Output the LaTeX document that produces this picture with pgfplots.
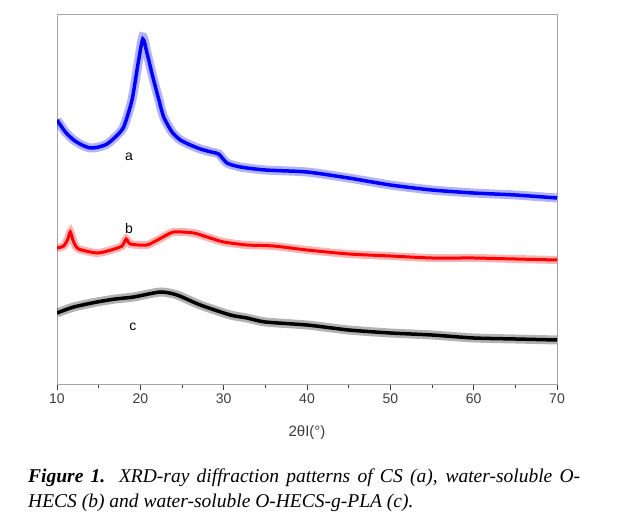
\documentclass[border=0pt]{standalone}
\usepackage{pgfplots}
\pgfplotsset{compat=1.18}
\usepackage{fontspec}
\setmainfont{Liberation Serif}
\newfontfamily\arial{Liberation Sans}
\definecolor{frame}{RGB}{165,165,165}
\definecolor{tickc}{RGB}{60,60,60}
\begin{document}
\begin{tikzpicture}
\useasboundingbox (0,0) rectangle (630bp,523bp);
\begin{axis}[
  at={(57bp,138bp)}, anchor=south west,
  scale only axis, width=500bp, height=370bp,
  xmin=10, xmax=70, ymin=0, ymax=370,
  xtick={10,20,...,70}, minor x tick num=1,
  ytick=\empty, xtick pos=bottom, tick align=outside,
  major tick length=5bp, minor tick length=3bp,
  axis line style={frame, line width=1bp},
  every tick/.style={tickc, line width=0.8bp},
  tick label style={font=\arial\fontsize{14bp}{16bp}\selectfont, text=tickc},
  /pgf/number format/assume math mode=true,
  xlabel={\arial\fontsize{15bp}{17bp}\selectfont 2θI(°)},
  xlabel style={text=tickc, yshift=-15bp},
  clip=true,
]
% series a (blue)
\addplot[blue, line width=9bp, opacity=0.3, smooth, tension=0.4] coordinates {
(10,265)(11,253)(12,245)(13,240)(14,237)(15,238)(16,241)(17,248)(18,258)(19,285)(19.7,320)(20.3,348)(20.8,332)(21.5,308)(22.2,286)(22.8,268)(23.8,253)(24.8,245)(26,240)(27.2,236)(28.5,233)(29.4,231)(30.4,222)(32,218)(35,215)(40,213)(45,207)(50,200)(55,195)(60,192)(65,190)(70,187)};
\addplot[blue, line width=3.5bp, smooth, tension=0.4] coordinates {
(10,265)(11,253)(12,245)(13,240)(14,237)(15,238)(16,241)(17,248)(18,258)(19,285)(19.7,320)(20.3,346)(20.8,332)(21.5,308)(22.2,286)(22.8,268)(23.8,253)(24.8,245)(26,240)(27.2,236)(28.5,233)(29.4,231)(30.4,222)(32,218)(35,215)(40,213)(45,207)(50,200)(55,195)(60,192)(65,190)(70,187)};
% series b (red)
\addplot[red, line width=8bp, opacity=0.3, smooth, tension=0.4] coordinates {
(10,137)(10.8,139)(11.3,146)(11.6,153)(12,143)(12.6,136)(14.8,132)(16.5,135)(17.8,139)(18.3,146)(18.8,141)(20.8,140)(22.5,147)(24,153)(26.4,152)(28,148)(30,143)(32.8,140)(36,139)(40,135)(45,131)(50,129)(55,127)(60,127)(65,126)(70,125)};
\addplot[red, line width=3bp, smooth, tension=0.4] coordinates {
(10,137)(10.8,139)(11.3,146)(11.6,153)(12,143)(12.6,136)(14.8,132)(16.5,135)(17.8,139)(18.3,146)(18.8,141)(20.8,140)(22.5,147)(24,153)(26.4,152)(28,148)(30,143)(32.8,140)(36,139)(40,135)(45,131)(50,129)(55,127)(60,127)(65,126)(70,125)};
% series c (black)
\addplot[black, line width=9bp, opacity=0.3, smooth, tension=0.4] coordinates {
(10,72)(12,78)(14.8,83)(17,86)(19.2,88)(22.4,93)(24.4,90)(27.2,80)(30.8,70)(32.8,67)(35,63)(40,60)(45,55)(50,52)(55,50)(60,47)(65,46)(70,45)};
\addplot[black, line width=3.5bp, smooth, tension=0.4] coordinates {
(10,72)(12,78)(14.8,83)(17,86)(19.2,88)(22.4,93)(24.4,90)(27.2,80)(30.8,70)(32.8,67)(35,63)(40,60)(45,55)(50,52)(55,50)(60,47)(65,46)(70,45)};
\node[font=\arial\fontsize{14bp}{16bp}\selectfont] at (axis cs:18.64,228) {a};
\node[font=\arial\fontsize{14bp}{16bp}\selectfont] at (axis cs:18.64,157) {b};
\node[font=\arial\fontsize{14bp}{16bp}\selectfont] at (axis cs:19.1,58) {c};
\end{axis}
\node[anchor=base west, inner sep=0pt, font=\fontsize{19.5bp}{22bp}\selectfont] at (28bp,40bp)
  {\makebox[552bp][s]{\textbf{\textit{Figure 1.}} \textit{XRD-ray diffraction patterns of CS (a), water-soluble O-}}};
\node[anchor=base west, inner sep=0pt, font=\fontsize{19.5bp}{22bp}\selectfont] at (28bp,16bp)
  {\textit{HECS (b) and water-soluble O-HECS-g-PLA (c).}};
\end{tikzpicture}
\end{document}
